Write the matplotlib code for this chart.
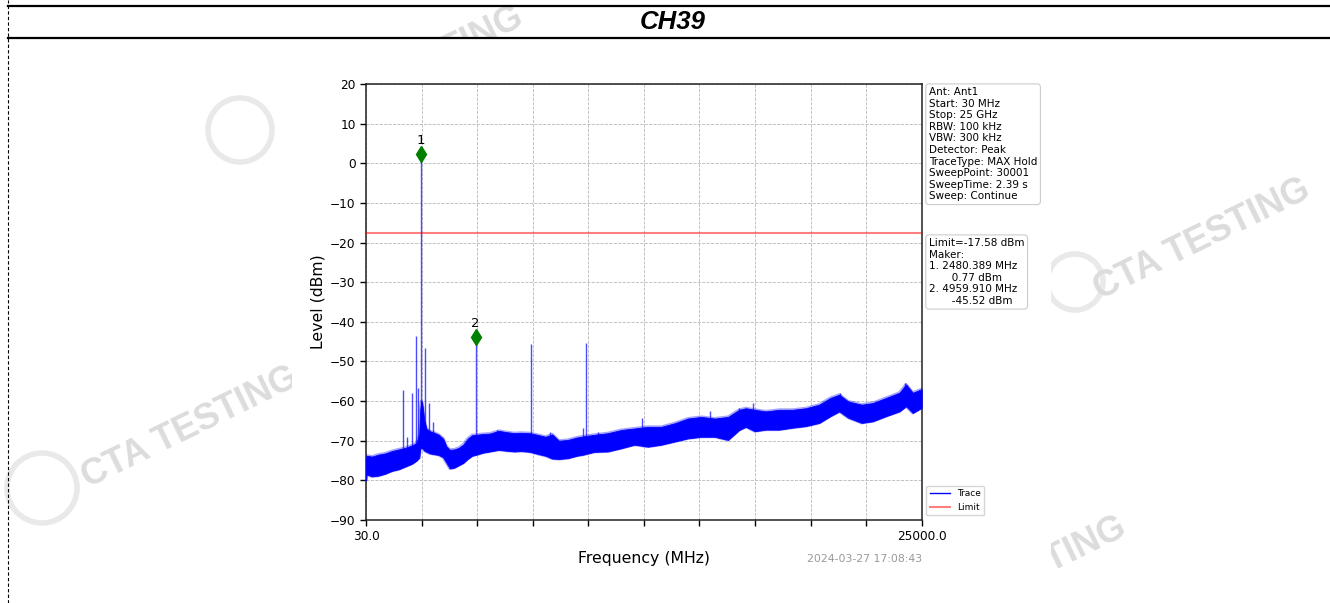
import numpy as np
import matplotlib
matplotlib.use('Agg')
import matplotlib.pyplot as plt
from matplotlib.lines import Line2D
from matplotlib.patches import Rectangle, Circle
from matplotlib.transforms import IdentityTransform

# ---------------- data ----------------
title = "CH39"
x_start, x_stop = 30.0, 25000.0
y_min, y_max = -90, 20
limit_dbm = -17.58

# noise-floor envelope of the MAX-hold trace (MHz, dBm)
env_freq = [30, 60, 300, 600, 900, 1200, 1500, 1800, 2100, 2300, 2420, 2470, 2520, 2580,
            2650, 2750, 2900, 3100, 3300, 3500, 3650, 3800, 4000, 4200, 4400, 4600, 4800,
            5000, 5300, 5600, 6000, 6300, 6700, 7000, 7400, 7800, 8100, 8400, 8700, 9100,
            9500, 9800, 10300, 10900, 11500, 12100, 12700, 13300, 13900, 14500, 15100,
            15700, 16300, 16800, 17100, 17500, 18000, 18600, 19200, 19800, 20400, 20900,
            21300, 21700, 22300, 22800, 23400, 24000, 24300, 24600, 25000]
env_upper = [-74.5, -73.8, -74.0, -73.5, -73.2, -72.6, -72.2, -71.8, -71.2, -70.6, -68.5,
             -62.0, -60.0, -61.5, -65.0, -67.0, -67.6, -68.0, -68.5, -69.5, -71.5, -72.3,
             -72.2, -71.8, -71.0, -69.5, -68.6, -68.5, -68.3, -68.2, -67.5, -67.8, -68.1,
             -68.0, -68.1, -68.6, -69.0, -68.4, -70.0, -69.8, -69.2, -68.9, -68.5, -68.1,
             -67.3, -66.9, -66.5, -66.5, -65.6, -64.4, -64.0, -64.4, -64.0, -62.2, -61.8,
             -62.2, -62.6, -62.2, -62.2, -61.8, -60.9, -59.2, -58.4, -60.1, -60.9, -60.5,
             -59.2, -57.9, -55.8, -57.9, -57.0]
env_lower = [-80.0, -78.5, -79.0, -78.8, -78.3, -77.6, -77.2, -76.5, -75.8, -75.0, -74.3,
             -72.0, -71.8, -72.0, -72.5, -72.8, -73.2, -73.4, -73.6, -74.2, -75.6, -77.0,
             -76.8, -76.2, -75.6, -74.6, -73.8, -73.5, -73.0, -72.7, -72.3, -72.5, -72.7,
             -72.6, -72.8, -73.4, -73.8, -74.5, -74.6, -74.4, -73.8, -73.5, -72.8, -72.7,
             -71.9, -71.0, -71.5, -71.0, -70.2, -69.4, -69.0, -69.0, -69.8, -67.3, -66.5,
             -67.6, -67.2, -67.2, -66.7, -66.3, -65.5, -63.8, -62.6, -64.2, -65.5, -65.1,
             -63.8, -62.6, -61.3, -63.0, -61.7]

# discrete spurs / carrier / harmonics and visible noise peaks (MHz, peak dBm)
spur_freq = [1692, 1886, 2083, 2277, 2366, 2480.389, 2560, 2667, 2860, 3054,
             4959.910, 5916, 7441, 8310, 9766, 9921, 10440, 12420, 15470, 16790,
             17430, 21330, 24270]
spur_peak = [-57.2, -69.0, -58.0, -43.7, -56.7, 2.4, -60.0, -46.7, -60.5, -65.2,
             -43.9, -67.3, -45.7, -67.7, -66.7, -45.3, -67.7, -64.3, -62.4, -61.8,
             -60.5, -58.0, -55.5]

# markers
marker_freq = [2480.389, 4959.910]
marker_level = [0.77, -45.52]        # values reported in the marker table
marker_plot_level = [2.4, -43.9]     # where the diamonds are drawn
marker_names = ["1", "2"]

info_lines = ["Ant: Ant1", "Start: 30 MHz", "Stop: 25 GHz", "RBW: 100 kHz",
              "VBW: 300 kHz", "Detector: Peak", "TraceType: MAX Hold",
              "SweepPoint: 30001", "SweepTime: 2.39 s", "Sweep: Continue"]
timestamp = "2024-03-27 17:08:43"

# ---------------- figure ----------------
W, H = 1330, 603
fig = plt.figure(figsize=(W / 100, H / 100), dpi=100)
fig.patch.set_facecolor('white')


def fx(p):
    return p / W


def fy(p):
    return 1 - p / H


# watermarks (behind the chart image)
wm_color = '#dcdcdc'
wm_kw = dict(color=wm_color, fontsize=26, fontweight='bold', family='Liberation Sans',
             rotation=26, rotation_mode='anchor', zorder=0.5)
fig.text(fx(1100), fy(300), 'CTA TESTING', ha='left', va='baseline', **wm_kw)
fig.text(fx(88), fy(488), 'CTA TESTING', ha='left', va='baseline', **wm_kw)
fig.text(fx(525), fy(24), 'CTA TESTING', ha='right', va='baseline', **wm_kw)
fig.text(fx(1128), fy(534), 'CTA TESTING', ha='right', va='baseline', **wm_kw)
for cx, cy, r in [(240, 130, 32), (1075, 282, 28), (42, 488, 35)]:
    fig.add_artist(Circle((cx, H - cy), r, transform=IdentityTransform(), fill=False,
                          edgecolor='#e9e9e9', lw=4, zorder=0.5))

# the chart "image" area covering the watermarks
fig.add_artist(Rectangle((fx(292), 0), fx(1051) - fx(292), fy(39), transform=fig.transFigure,
                         facecolor='white', edgecolor='none', zorder=1))

# header table
fig.add_artist(Line2D([fx(8), 1], [fy(6), fy(6)], color='black', lw=1.6, zorder=3))
fig.add_artist(Line2D([fx(8), 1], [fy(38), fy(38)], color='black', lw=1.6, zorder=3))
fig.add_artist(Line2D([fx(8), fx(8)], [0, 1], color='black', lw=0.8, ls=(0, (3, 2)), zorder=3))
fig.text(fx(673), fy(22), title, ha='center', va='center', fontsize=18.5,
         fontweight='bold', fontstyle='italic', family='Liberation Sans', zorder=3)

# ---------------- main axes ----------------
ax = fig.add_axes([fx(366), fy(520), (921.7 - 366) / W, (520 - 84) / H])
ax.set_zorder(2)
ax.set_facecolor('white')

ax.fill_between(env_freq, env_lower, env_upper, facecolor='blue', edgecolor='blue',
                lw=0.6, zorder=3)
# soft fringe on the band edges (noise excursions)
ax.fill_between(env_freq, env_lower, env_upper, facecolor='none', edgecolor='blue',
                lw=2.2, alpha=0.35, zorder=3)
spur_base = np.interp(spur_freq, env_freq, env_lower) + 1.0
ax.vlines(spur_freq, spur_base, spur_peak, color='blue', lw=1.0, alpha=0.7, zorder=2)

ax.axhline(limit_dbm, color='red', alpha=0.5, lw=1.5, zorder=4)

trace_handle = Line2D([], [], color='blue', lw=1)
limit_handle = Line2D([], [], color='red', alpha=0.5, lw=1.5)

ax.plot(marker_freq, marker_plot_level, ls='none', marker='d', markersize=8,
        color='green', zorder=5)
for f, lv, name in zip(marker_freq, marker_plot_level, marker_names):
    ax.annotate(name, (f, lv), xytext=(0, 5), textcoords='offset points',
                ha='center', va='bottom', fontsize=9.5, zorder=6)

ax.set_xlim(x_start, x_stop)
ax.set_ylim(y_min, y_max)
xt = np.linspace(x_start, x_stop, 11)
ax.set_xticks(xt)
ax.set_xticklabels(['30.0'] + [''] * 9 + ['25000.0'])
ax.set_yticks(np.arange(y_min, y_max + 1, 10))
ax.tick_params(labelsize=8.7, length=4, width=1)
ax.grid(True, ls='--', color='#b8b8b8', lw=0.6)
ax.set_axisbelow(True)
for s in ax.spines.values():
    s.set_linewidth(1.1)
    s.set_color('#222222')

ax.set_xlabel('Frequency (MHz)', fontsize=11.3)
ax.xaxis.set_label_coords(0.5, (520 - 558) / 436)
ax.xaxis.label.set_va('center')
ax.set_ylabel('Level (dBm)', fontsize=11.3)
ax.yaxis.set_label_coords((318 - 366) / 555.7, 0.5)
ax.yaxis.label.set_va('center')

ax.text(1.0, (520 - 559) / 436, timestamp, transform=ax.transAxes, ha='right',
        va='center', fontsize=7.8, color='#999999')

box = dict(boxstyle='round,pad=0.3', facecolor='white', edgecolor='#cccccc', lw=0.8)
ax.text(1.013, 0.993, "\n".join(info_lines), transform=ax.transAxes, ha='left', va='top',
        fontsize=7.5, bbox=box, clip_on=False)
marker_text = "Limit={:.2f} dBm\nMaker:\n".format(limit_dbm)
for i, (f, lv) in enumerate(zip(marker_freq, marker_level)):
    marker_text += "{}. {:.3f} MHz\n       {:.2f} dBm".format(i + 1, f, lv)
    if i < len(marker_freq) - 1:
        marker_text += "\n"
ax.text(1.013, 1 - (238 - 84) / 436, marker_text, transform=ax.transAxes, ha='left',
        va='top', fontsize=7.5, bbox=box, clip_on=False)

leg = ax.legend([trace_handle, limit_handle], ['Trace', 'Limit'], loc='lower left',
                bbox_to_anchor=(1.0, 0.0), fontsize=6.5, frameon=True, handlelength=2.2,
                borderaxespad=0.5)
leg.get_frame().set_edgecolor('#cccccc')

fig.savefig('out.png', dpi=100, facecolor='white')
